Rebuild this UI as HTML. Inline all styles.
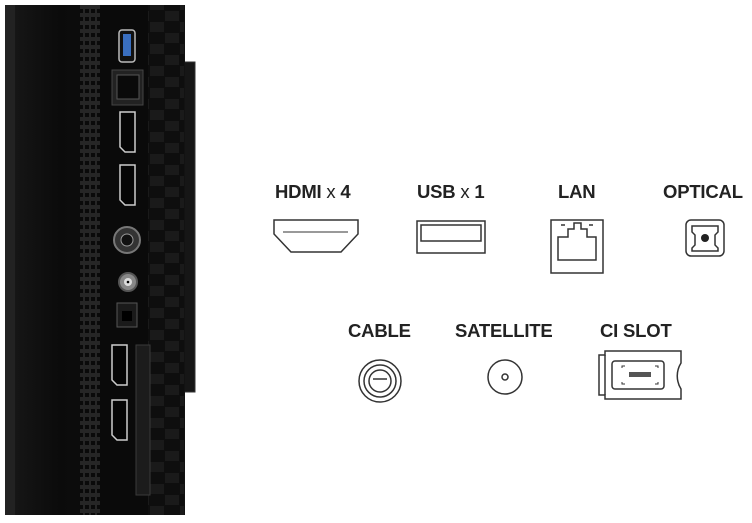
<!DOCTYPE html>
<html><head><style>
body{margin:0;width:752px;height:523px;background:#fff;overflow:hidden;position:relative;font-family:"Liberation Sans",sans-serif}
.t{position:absolute;font-weight:bold;font-size:18.5px;color:#222;white-space:nowrap;letter-spacing:-0.2px}
.t span{font-weight:normal}
</style></head><body>
<svg width="752" height="523" style="position:absolute;left:0;top:0">
<defs>
<linearGradient id="g" x1="0" x2="1"><stop offset="0" stop-color="#181818"/><stop offset="0.3" stop-color="#0b0b0b"/><stop offset="1" stop-color="#121212"/></linearGradient>
<pattern id="v" width="6" height="8" patternUnits="userSpaceOnUse"><rect width="6" height="8" fill="#262626"/><rect x="1" y="1" width="4" height="4" fill="#0a0a0a"/></pattern>
<pattern id="b" width="30" height="22" patternUnits="userSpaceOnUse"><rect width="30" height="22" fill="#0e0e0e"/><rect x="0" y="0" width="14" height="10" fill="#1a1a1a"/><rect x="15" y="11" width="14" height="10" fill="#1a1a1a"/></pattern>
</defs>
<rect x="183" y="62" width="12" height="330" fill="#161616" stroke="#333"/>
<rect x="5" y="5" width="180" height="510" fill="url(#g)"/>
<rect x="5" y="5" width="10" height="510" fill="#222"/>
<rect x="80" y="5" width="20" height="510" fill="url(#v)"/>
<rect x="148" y="5" width="36" height="510" fill="url(#b)"/>
<rect x="100" y="5" width="48" height="510" fill="#0a0a0a"/>
<rect x="119" y="30" width="16" height="32" rx="3" fill="#111" stroke="#bbb" stroke-width="1.5"/>
<rect x="123" y="34" width="8" height="22" fill="#3a6fc0"/>
<rect x="112" y="70" width="31" height="35" fill="#222" stroke="#444"/>
<rect x="117" y="75" width="22" height="24" fill="#0a0a0a" stroke="#555"/>
<g fill="#050505" stroke="#ccc" stroke-width="1.5">
<path d="M120 112h15v40h-10l-5-5z"/>
<path d="M120 165h15v40h-10l-5-5z"/>
<path d="M112 345h15v40h-10l-5-5z"/>
<path d="M112 400h15v40h-10l-5-5z"/>
</g>
<circle cx="127" cy="240" r="13" fill="#333" stroke="#777" stroke-width="2"/>
<circle cx="127" cy="240" r="6" fill="#111" stroke="#999"/>
<circle cx="128" cy="282" r="9" fill="#888" stroke="#555" stroke-width="2"/>
<circle cx="128" cy="282" r="4" fill="#ddd"/><circle cx="128" cy="282" r="1.3" fill="#000"/>
<rect x="117" y="303" width="20" height="24" fill="#1a1a1a" stroke="#555"/>
<rect x="122" y="311" width="10" height="10" fill="#000"/>
<rect x="136" y="345" width="14" height="150" fill="#1c1c1c" stroke="#3a3a3a"/>
<g fill="none" stroke="#333" stroke-width="1.5">
<path d="M274 220h84v14l-17 18h-50l-17-18z"/>
<path d="M283 232h65" stroke-width="1"/>
<rect x="417" y="221" width="68" height="32"/>
<rect x="421" y="225" width="60" height="16"/>
<rect x="551" y="220" width="52" height="53"/>
<path d="M558 260v-23h10v-8h6v-6h7v6h6v8h9v23z" />
<path d="M561 225h4M589 225h4"/>
<rect x="686" y="220" width="38" height="36" rx="5"/>
<path d="M692 226h26v6l-3 3v10l3 3v3h-26v-3l3-3v-10l-3-3z"/>
<circle cx="380" cy="381" r="21"/><circle cx="380" cy="381" r="16"/><circle cx="380" cy="381" r="11"/>
<path d="M373 379h14"/>
<circle cx="505" cy="377" r="17"/><circle cx="505" cy="377" r="3"/>
<path d="M599 355h6v-4h76v12c-5 8-5 18 0 26v10h-76v-4h-6z"/>
<path d="M605 355v40"/>
<rect x="612" y="361" width="52" height="28" rx="3"/>
<path d="M622 368v-2h3M655 366h3v2M622 382v2h3M655 384h3v-2" stroke-width="1"/>
</g>
<rect x="629" y="372" width="22" height="5" fill="#555"/>
<circle cx="705" cy="238" r="4" fill="#222"/>
</svg>
<div class="t" style="left:275px;top:181px">HDMI <span>x</span> 4</div>
<div class="t" style="left:417px;top:181px">USB <span>x</span> 1</div>
<div class="t" style="left:558px;top:181px">LAN</div>
<div class="t" style="left:663px;top:181px">OPTICAL</div>
<div class="t" style="left:348px;top:320px">CABLE</div>
<div class="t" style="left:455px;top:320px">SATELLITE</div>
<div class="t" style="left:600px;top:320px">CI SLOT</div>
</body></html>
